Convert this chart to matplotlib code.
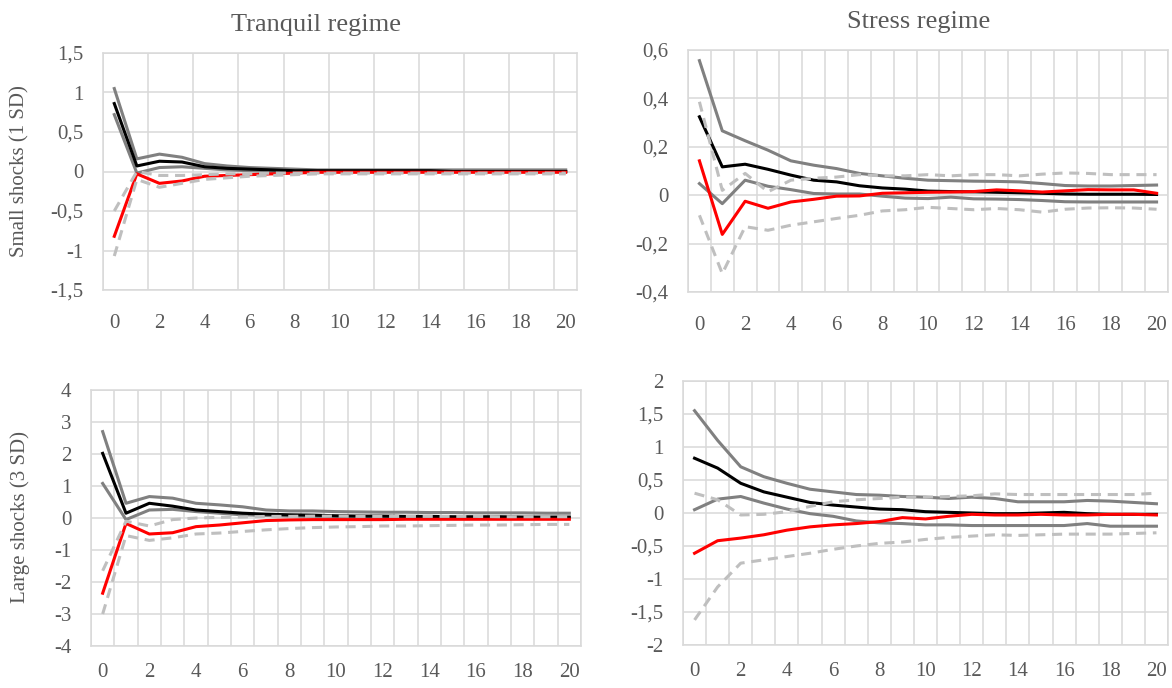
import numpy as np
import matplotlib.pyplot as plt
from matplotlib.ticker import FixedLocator, FuncFormatter

plt.rcParams['font.family'] = ['Liberation Serif', 'DejaVu Serif']

horizon = np.arange(21)

# Tranquil regime, small shocks (1 SD)
ts_upper = [1.05, 0.16, 0.22, 0.18, 0.10, 0.07, 0.05, 0.04, 0.03, 0.02, 0.02,
            0.02, 0.02, 0.02, 0.02, 0.02, 0.02, 0.02, 0.02, 0.02, 0.02]
ts_median = [0.86, 0.07, 0.13, 0.12, 0.06, 0.04, 0.03, 0.02, 0.01, 0.01, 0.01,
             0.01, 0.01, 0.01, 0.01, 0.0, 0.0, 0.0, 0.0, 0.0, 0.0]
ts_lower = [0.72, -0.02, 0.05, 0.06, 0.04, 0.02, 0.01, 0.0, 0.0, 0.0, 0.0,
            0.0, 0.0, 0.0, 0.0, 0.0, 0.0, 0.0, 0.0, 0.0, 0.0]
ts_red = [-0.82, -0.03, -0.15, -0.12, -0.06, -0.05, -0.04, -0.03, -0.02, -0.01, -0.01,
          -0.01, -0.01, -0.01, -0.01, -0.01, -0.01, -0.01, -0.01, -0.01, -0.01]
ts_dash_hi = [-0.50, 0.0, -0.05, -0.05, -0.04, -0.03, -0.03, -0.02, -0.02, -0.02, -0.02,
              -0.02, -0.02, -0.02, -0.02, -0.02, -0.02, -0.02, -0.02, -0.02, -0.02]
ts_dash_lo = [-1.07, -0.10, -0.20, -0.15, -0.10, -0.08, -0.06, -0.05, -0.04, -0.03, -0.03,
              -0.03, -0.03, -0.03, -0.03, -0.03, -0.03, -0.03, -0.03, -0.03, -0.03]

# Stress regime, small shocks (1 SD)
ss_upper = [0.556, 0.266, 0.225, 0.186, 0.142, 0.124, 0.11, 0.09, 0.08, 0.07, 0.062,
            0.06, 0.058, 0.057, 0.055, 0.048, 0.04, 0.038, 0.038, 0.04, 0.042]
ss_median = [0.324, 0.117, 0.128, 0.107, 0.083, 0.062, 0.055, 0.039, 0.03, 0.025, 0.017,
             0.015, 0.014, 0.012, 0.01, 0.008, 0.005, 0.004, 0.004, 0.004, 0.003]
ss_lower = [0.048, -0.035, 0.062, 0.037, 0.023, 0.007, 0.005, 0.005, -0.004, -0.012, -0.014,
            -0.008, -0.015, -0.016, -0.018, -0.022, -0.027, -0.028, -0.028, -0.028, -0.028]
ss_red = [0.142, -0.162, -0.025, -0.054, -0.028, -0.017, -0.004, -0.003, 0.008, 0.01, 0.012,
          0.013, 0.015, 0.022, 0.018, 0.013, 0.018, 0.023, 0.022, 0.022, 0.008]
ss_dash_hi = [0.386, 0.02, 0.09, 0.014, 0.062, 0.07, 0.075, 0.085, 0.08, 0.08, 0.085,
              0.08, 0.085, 0.085, 0.08, 0.087, 0.092, 0.09, 0.085, 0.085, 0.085]
ss_dash_lo = [-0.083, -0.324, -0.13, -0.145, -0.124, -0.11, -0.096, -0.083, -0.065, -0.06, -0.05,
              -0.055, -0.06, -0.055, -0.06, -0.07, -0.058, -0.053, -0.052, -0.053, -0.058]

# Tranquil regime, large shocks (3 SD)
tl_upper = [2.70, 0.46, 0.67, 0.62, 0.46, 0.41, 0.35, 0.25, 0.22, 0.22, 0.20,
            0.19, 0.18, 0.18, 0.17, 0.17, 0.16, 0.16, 0.16, 0.15, 0.15]
tl_median = [2.02, 0.15, 0.46, 0.37, 0.25, 0.20, 0.15, 0.12, 0.10, 0.09, 0.07,
             0.06, 0.06, 0.05, 0.05, 0.04, 0.04, 0.04, 0.03, 0.03, 0.03]
tl_lower = [1.08, -0.05, 0.25, 0.27, 0.20, 0.15, 0.10, 0.08, 0.06, 0.05, 0.04,
            0.03, 0.02, 0.02, 0.01, 0.01, 0.01, 0.0, 0.0, 0.0, 0.0]
tl_red = [-2.35, -0.17, -0.50, -0.46, -0.27, -0.22, -0.15, -0.08, -0.06, -0.05, -0.05,
          -0.05, -0.05, -0.04, -0.04, -0.04, -0.04, -0.04, -0.04, -0.04, -0.04]
tl_dash_hi = [-1.65, -0.10, -0.25, -0.05, 0.0, 0.02, 0.03, 0.05, 0.05, 0.06, 0.06,
              0.05, 0.05, 0.05, 0.05, 0.05, 0.05, 0.04, 0.04, 0.04, 0.04]
tl_dash_lo = [-3.0, -0.55, -0.70, -0.62, -0.50, -0.47, -0.42, -0.37, -0.33, -0.30, -0.28,
              -0.27, -0.25, -0.25, -0.24, -0.23, -0.22, -0.22, -0.21, -0.20, -0.20]

# Stress regime, large shocks (3 SD)
sl_upper = [1.55, 1.10, 0.70, 0.55, 0.45, 0.36, 0.32, 0.28, 0.27, 0.25, 0.24,
            0.22, 0.24, 0.22, 0.17, 0.17, 0.17, 0.19, 0.18, 0.16, 0.14]
sl_median = [0.83, 0.68, 0.45, 0.32, 0.24, 0.16, 0.12, 0.09, 0.06, 0.05, 0.02,
             0.01, 0.0, -0.01, -0.01, 0.0, 0.01, -0.01, -0.02, -0.02, -0.02]
sl_lower = [0.05, 0.21, 0.25, 0.15, 0.06, -0.01, -0.05, -0.12, -0.15, -0.16, -0.18,
            -0.18, -0.19, -0.19, -0.19, -0.19, -0.19, -0.16, -0.20, -0.20, -0.20]
sl_red = [-0.61, -0.42, -0.38, -0.33, -0.26, -0.21, -0.18, -0.16, -0.13, -0.07, -0.09,
          -0.05, -0.02, -0.03, -0.03, -0.02, -0.03, -0.03, -0.02, -0.02, -0.03]
sl_dash_hi = [0.30, 0.20, -0.03, -0.02, 0.02, 0.10, 0.17, 0.20, 0.22, 0.24, 0.24,
              0.25, 0.26, 0.29, 0.28, 0.28, 0.28, 0.28, 0.28, 0.28, 0.30]
sl_dash_lo = [-1.62, -1.12, -0.76, -0.71, -0.66, -0.61, -0.55, -0.50, -0.46, -0.44, -0.40,
              -0.37, -0.35, -0.33, -0.34, -0.33, -0.32, -0.32, -0.32, -0.31, -0.30]

panels = [
    # axes rect, y ticks, vertical grid step, x label pad, series
    ([103 / 1172, 1 - 290 / 688, 474 / 1172, 237 / 688], [-1.5, -1, -0.5, 0, 0.5, 1, 1.5], 2, 17,
     (ts_upper, ts_median, ts_lower, ts_red, ts_dash_hi, ts_dash_lo)),
    ([688 / 1172, 1 - 292 / 688, 480 / 1172, 242 / 688], [-0.4, -0.2, 0, 0.2, 0.4, 0.6], 1, 17,
     (ss_upper, ss_median, ss_lower, ss_red, ss_dash_hi, ss_dash_lo)),
    ([91 / 1172, 1 - 646 / 688, 490 / 1172, 256 / 688], [-4, -3, -2, -1, 0, 1, 2, 3, 4], 1, 12,
     (tl_upper, tl_median, tl_lower, tl_red, tl_dash_hi, tl_dash_lo)),
    ([683 / 1172, 1 - 645 / 688, 485 / 1172, 264 / 688], [-2, -1.5, -1, -0.5, 0, 0.5, 1, 1.5, 2], 1, 12,
     (sl_upper, sl_median, sl_lower, sl_red, sl_dash_hi, sl_dash_lo)),
]

text_color = '#595959'
grid_color = '#d9d9d9'
lw = 2.2
dash = (0, (3.3, 2.2))


def comma_fmt(v, pos):
    s = f'{v:g}'
    return s.replace('.', ',')


fig = plt.figure(figsize=(11.72, 6.88), dpi=100)

for rect, yticks, step, xpad, series in panels:
    ax = fig.add_axes(rect)
    upper, median, lower, red, dash_hi, dash_lo = series

    ax.plot(horizon, upper, color='#808080', lw=lw, zorder=3)
    ax.plot(horizon, lower, color='#808080', lw=lw, zorder=3)
    ax.plot(horizon, median, color='black', lw=lw, zorder=4)
    ax.plot(horizon, red, color='#ff0000', lw=lw, zorder=5)
    ax.plot(horizon, dash_hi, color='#bfbfbf', lw=lw, ls=dash, zorder=6)
    ax.plot(horizon, dash_lo, color='#bfbfbf', lw=lw, ls=dash, zorder=6)

    ax.set_xlim(-0.5, 20.5)
    ax.set_ylim(yticks[0], yticks[-1])

    # gridlines sit on the category boundaries
    for xb in np.arange(-0.5, 20.6, step):
        ax.axvline(xb, color=grid_color, lw=1.1, zorder=1)
    for yv in yticks:
        ax.axhline(yv, color=grid_color, lw=1.1, zorder=1)

    ax.xaxis.set_major_locator(FixedLocator(range(0, 21, 2)))
    ax.yaxis.set_major_locator(FixedLocator(yticks))
    ax.yaxis.set_major_formatter(FuncFormatter(comma_fmt))
    ax.tick_params(axis='both', length=0, labelsize=15, labelcolor=text_color)
    ax.tick_params(axis='x', pad=xpad)
    ax.tick_params(axis='y', pad=14)
    for sp in ax.spines.values():
        sp.set_color(grid_color)
        sp.set_linewidth(1.1)

fig.text(316 / 1172, 1 - 25 / 688, 'Tranquil regime', ha='center', va='center',
         fontsize=19, color=text_color)
fig.text(919 / 1172, 1 - 22 / 688, 'Stress regime', ha='center', va='center',
         fontsize=19, color=text_color)
fig.text(20 / 1172, 1 - 171 / 688, 'Small shocks (1 SD)', ha='center', va='center',
         rotation=90, fontsize=15, color=text_color)
fig.text(20 / 1172, 1 - 517 / 688, 'Large shocks (3 SD)', ha='center', va='center',
         rotation=90, fontsize=15, color=text_color)

fig.savefig('out.png', dpi=100, facecolor='white')
